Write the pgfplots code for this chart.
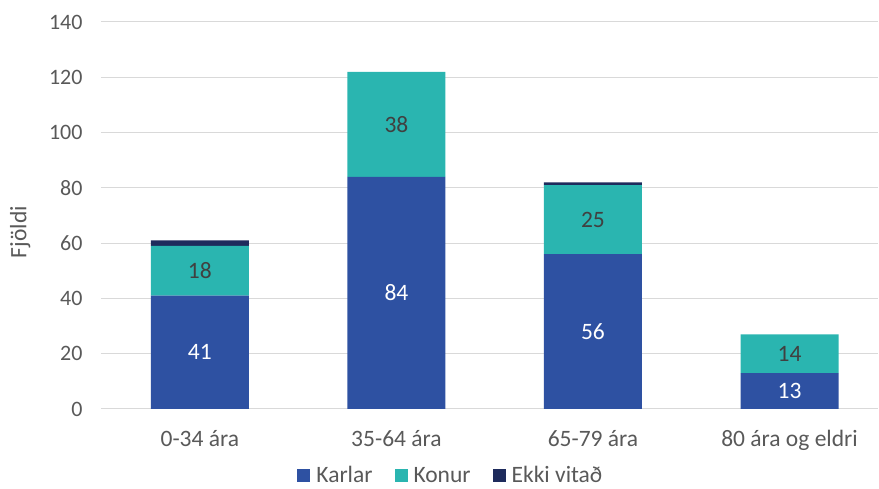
\documentclass[border=0pt]{standalone}
\usepackage{fontspec}
\setmainfont{Carlito}
\usepackage{pgfplots}
\pgfplotsset{compat=1.18}
\definecolor{karlar}{HTML}{2E51A2}
\definecolor{konur}{HTML}{2AB5B0}
\definecolor{ekki}{HTML}{1E2B5C}
\definecolor{txt}{HTML}{595959}
\definecolor{grd}{HTML}{D9D9D9}
\begin{document}
\begin{tikzpicture}
\path[use as bounding box] (-101pt,-80pt) rectangle (778pt,409pt);
\begin{axis}[
  scale only axis, width=777pt, height=387pt,
  ybar stacked, bar width=98pt,
  xmin=-0.503, xmax=3.45, ymin=0, ymax=140,
  ytick={0,20,...,140},
  xtick={0,1,2,3},
  xticklabels={0-34 ára,35-64 ára,65-79 ára,80 ára og eldri},
  axis x line*=bottom, axis y line*=left,
  x axis line style={grd, line width=1pt, -},
  y axis line style={draw=none},
  ymajorgrids, grid style={grd, line width=1pt},
  major tick length=0pt,
  /pgf/number format/assume math mode=true,
  tick label style={text=txt},
  yticklabel style={font=\fontsize{22}{24}\selectfont, xshift=-15pt},
  xticklabel style={font=\fontsize{23.5}{26}\selectfont, yshift=-18pt},
  ylabel={Fjöldi}, ylabel style={font=\fontsize{23.5}{26}\selectfont, text=txt, at={(axis description cs:-0.104,0.457)}, anchor=center},
  legend style={at={(0.449,-0.172)}, anchor=center, draw=none, fill=none,
    legend columns=3, font=\fontsize{23.5}{26}\selectfont, text=txt,
    nodes={inner xsep=0pt, inner ysep=0.5pt},
    /tikz/every even column/.append style={column sep=22pt},
    /tikz/every odd column/.append style={column sep=6pt}},
  legend image code/.code={\fill[#1] (0pt,-6.5pt) rectangle (13pt,6.5pt);},
]
\addplot[fill=karlar, draw=none] coordinates {(0,41) (1,84) (2,56) (3,13)};
\addplot[fill=konur, draw=none] coordinates {(0,18) (1,38) (2,25) (3,14)};
\addplot[fill=ekki, draw=none] coordinates {(0,2) (1,0) (2,1) (3,0)};
\legend{Karlar,Konur,Ekki vitað}
\end{axis}
\begin{axis}[
  scale only axis, width=777pt, height=387pt,
  xmin=-0.503, xmax=3.45, ymin=0, ymax=140,
  hide axis,
  nodes near coords, point meta=explicit symbolic,
]
\addplot[draw=none, nodes near coords style={anchor=center, text=white, font=\fontsize{23.5}{26}\selectfont}]
  coordinates {(0,20.5)[41] (1,42)[84] (2,28)[56] (3,6.5)[13]};
\addplot[draw=none, nodes near coords style={anchor=center, text=black!75, font=\fontsize{23.5}{26}\selectfont}]
  coordinates {(0,50)[18] (1,103)[38] (2,68.5)[25] (3,20)[14]};
\end{axis}
\end{tikzpicture}
\end{document}
